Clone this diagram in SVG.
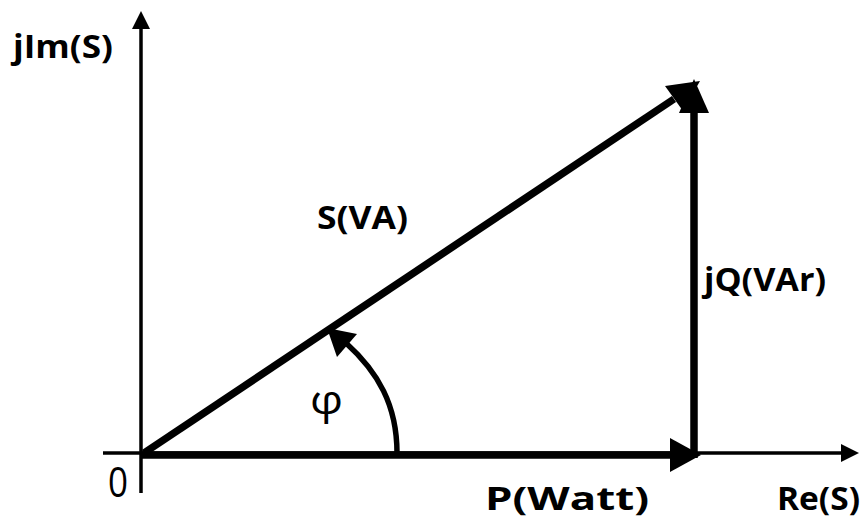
<svg xmlns="http://www.w3.org/2000/svg" width="863" height="522" viewBox="0 0 863 522">
<style>
.ax{stroke:#000;stroke-width:3.5;fill:none}
.vec{stroke:#000;stroke-width:7.5;fill:none}
.arc{stroke:#000;stroke-width:5.5;fill:none}
.hd{fill:#000;stroke:none}
.lb{font-family:"Open Sans","Liberation Sans",sans-serif;font-weight:bold;font-size:33px;fill:#000}
.lt{font-family:"Open Sans","Liberation Sans",sans-serif;fill:#000}
</style>
<rect width="863" height="522" fill="#fff"/>
<g id="connectors">
<line class="ax" x1="141" y1="493" x2="141" y2="26"/>
<polygon class="hd" points="141,11 132,29 150,29"/>
<line class="ax" x1="103" y1="453" x2="845" y2="453"/>
<polygon class="hd" points="859,453 841,444 841,462"/>
<line class="vec" x1="141" y1="455" x2="674" y2="455"/>
<polygon class="hd" points="701,455 670,438 670,472"/>
<line class="vec" x1="694" y1="458" x2="694" y2="108"/>
<polygon class="hd" points="694,79 679,113 709,113"/>
<line class="vec" x1="144" y1="453" x2="674" y2="99"/>
<polygon class="hd" points="700,81 665,86 683,111"/>
<path class="arc" d="M397,453 C397,405 378,372 346,343"/>
<polygon class="hd" points="327,328 357,334 337,357"/>
</g>
<g id="labels">
<text class="lb" x="13" y="58" textLength="100" lengthAdjust="spacingAndGlyphs">jIm(S)</text>
<text class="lb" x="317" y="229" textLength="91" lengthAdjust="spacingAndGlyphs">S(VA)</text>
<text class="lb" x="704" y="291" textLength="122" lengthAdjust="spacingAndGlyphs">jQ(VAr)</text>
<text class="lb" x="485" y="510" textLength="164" lengthAdjust="spacingAndGlyphs">P(Watt)</text>
<text class="lb" x="777" y="510" textLength="83" lengthAdjust="spacingAndGlyphs">Re(S)</text>
<text class="lt" x="108" y="497" font-size="42" textLength="20" lengthAdjust="spacingAndGlyphs">0</text>
<text class="lt" x="310" y="414" font-size="40" textLength="33" lengthAdjust="spacingAndGlyphs">φ</text>
</g>
</svg>
